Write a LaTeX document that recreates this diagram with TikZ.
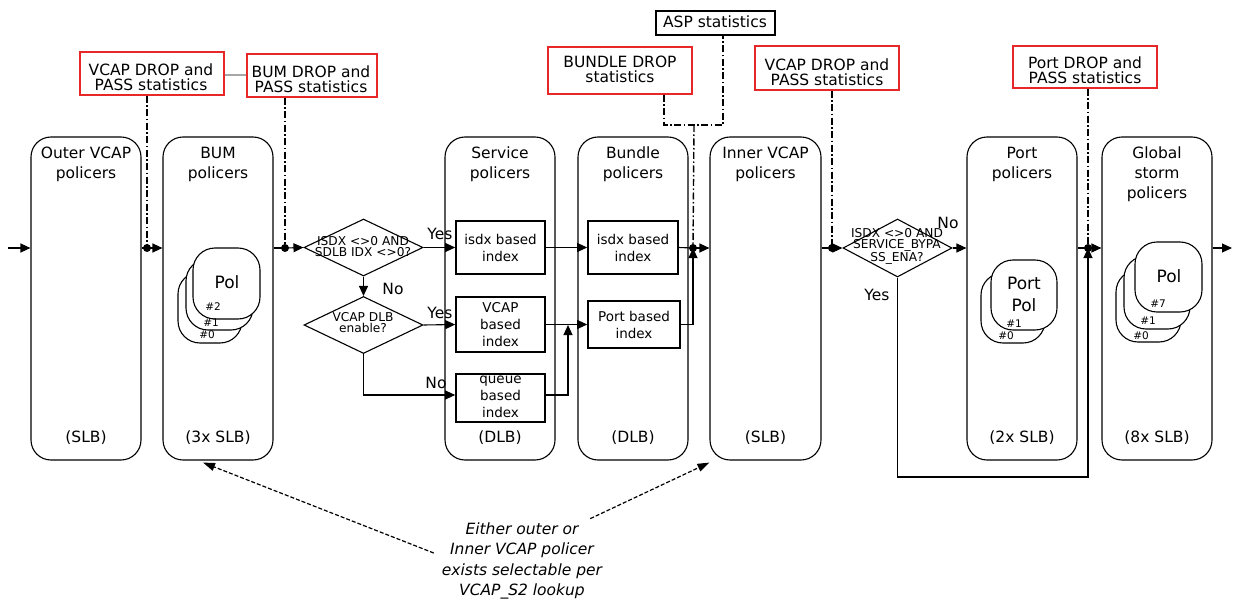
\documentclass[tikz,border=0pt]{standalone}
\usepackage{fontspec}
\setmainfont{DejaVu Sans}
\usetikzlibrary{arrows.meta,shapes.geometric}
\definecolor{statred}{RGB}{232,40,40}
\begin{document}
\begin{tikzpicture}[x=1pt,y=-1pt,
  bigbox/.style={draw, line width=1.1pt, rounded corners=20pt, minimum width=110pt, minimum height=323pt, inner sep=0pt},
  ttl/.style={inner sep=0pt, align=center, font=\fontsize{15.5}{20}\selectfont},
  stat/.style={draw=statred, line width=1.3pt, inner sep=0pt},
  blkstat/.style={draw, line width=1.2pt, inner sep=0pt},
  stl/.style={inner sep=0pt, align=center, font=\fontsize{15.5}{15}\selectfont},
  ibox/.style={draw, line width=1.6pt, inner sep=0pt, minimum width=89pt},
  itxt/.style={inner sep=0pt, align=center, font=\fontsize{13.5}{17}\selectfont},
  dia/.style={draw, shape=diamond, line width=1.1pt, inner sep=0pt, minimum width=119pt, minimum height=57pt},
  dtxt/.style={inner sep=0pt, align=center, font=\fontsize{12.2}{11}\selectfont},
  card/.style={draw, fill=white, line width=1.1pt, rounded corners=22pt, inner sep=0pt},
  num/.style={inner sep=0pt, font=\fontsize{10.5}{11}\selectfont},
  pol/.style={inner sep=0pt, align=center, font=\fontsize{17}{22}\selectfont},
  lbl/.style={inner sep=0pt, font=\fontsize{15.5}{16}\selectfont},
  arr/.style={-{Triangle[length=10pt,width=9pt]}, line width=1.1pt},
  dd/.style={line width=1.4pt, dash pattern=on 7pt off 2.5pt on 1.5pt off 2.5pt},
  dsh/.style={-{Triangle[length=12pt,width=8pt]}, line width=1.2pt, dash pattern=on 4pt off 2pt}]
\useasboundingbox (0,0) rectangle (1240,599);

% big boxes
\node[bigbox] (outer) at (86,298.5) {};
\node[ttl] (outerT) at (86,164) {Outer VCAP\\policers};
\node[ttl] (outerB) at (86,438) {(SLB)};
\node[bigbox] (bum) at (218,298.5) {};
\node[ttl] (bumT) at (218,164) {BUM\\policers};
\node[ttl] (bumB) at (218,438) {(3x SLB)};
\node[bigbox] (serv) at (500,298.5) {};
\node[ttl] (servT) at (500,164) {Service\\policers};
\node[ttl] (servB) at (500,438) {(DLB)};
\node[bigbox] (bund) at (633,298.5) {};
\node[ttl] (bundT) at (633,164) {Bundle\\policers};
\node[ttl] (bundB) at (633,438) {(DLB)};
\node[bigbox, minimum width=111pt] (inner) at (765.5,298.5) {};
\node[ttl] (innerT) at (765.5,164) {Inner VCAP\\policers};
\node[ttl] (innerB) at (765.5,438) {(SLB)};
\node[bigbox] (port) at (1022,298.5) {};
\node[ttl] (portT) at (1022,164) {Port\\policers};
\node[ttl] (portB) at (1022,438) {(2x SLB)};
\node[bigbox] (glob) at (1157,298.5) {};
\node[ttl] (globT) at (1157,174) {Global\\storm\\policers};
\node[ttl] (globB) at (1157,438) {(8x SLB)};

% statistics boxes
\node[stat, minimum width=144pt, minimum height=43pt] (vs1) at (152,73.5) {};
\node[stl] (vs1t) at (151,77.5) {VCAP DROP and\\PASS statistics};
\node[stat, minimum width=130pt, minimum height=43pt] (bs) at (312,75.5) {};
\node[stl] (bst) at (311,79) {BUM DROP and\\PASS statistics};
\node[blkstat, minimum width=119pt, minimum height=24pt] (asp) at (715.5,23) {};
\node[stl] (aspt) at (715,22) {ASP statistics};
\node[stat, minimum width=144pt, minimum height=47pt] (bds) at (620,70.5) {};
\node[stl] (bdst) at (620,69.5) {BUNDLE DROP\\statistics};
\node[stat, minimum width=144pt, minimum height=44pt] (vs2) at (827,68) {};
\node[stl] (vs2t) at (827,72.5) {VCAP DROP and\\PASS statistics};
\node[stat, minimum width=144pt, minimum height=42pt] (ps) at (1085,67) {};
\node[stl] (pst) at (1085,70.5) {Port DROP and\\PASS statistics};
\draw[gray!70, line width=1.2pt] (vs1.east |- 0,75) -- (bs.west |- 0,75);

% diamonds
\node[dia] (d1) at (363.5,247.5) {};
\node[dtxt] (d1t) at (363,246.5) {ISDX <>0 AND\\SDLB IDX <>0?};
\node[dia] (d2) at (363.5,325) {};
\node[dtxt] (d2t) at (363,322.5) {VCAP DLB\\enable?};
\node[dia, minimum width=109pt, minimum height=58pt] (d3) at (897.5,248) {};
\node[dtxt] (d3t) at (897,246.5) {ISDX <>0 AND\\SERVICE\_BYPA\\SS\_ENA?};

% index boxes
\node[ibox, minimum height=53pt] (s1) at (500.5,247.5) {};
\node[itxt] (s1t) at (500.5,247.5) {isdx based\\index};
\node[ibox, minimum height=55pt] (s2) at (500.5,324.5) {};
\node[itxt] (s2t) at (500.5,324.5) {VCAP\\based\\index};
\node[ibox, minimum height=48pt] (s3) at (500.5,398) {};
\node[itxt] (s3t) at (500.5,397) {queue\\based\\index};
\node[ibox, minimum width=90pt, minimum height=53pt] (b1) at (633,247.5) {};
\node[itxt] (b1t) at (633,247.5) {isdx based\\index};
\node[ibox, minimum width=92pt, minimum height=47pt] (b2) at (634,324.5) {};
\node[itxt] (b2t) at (634,324.5) {Port based\\index};

% policer cards
\node[card, minimum width=64pt, minimum height=71pt] (bc0) at (210,307.5) {};
\node[card, minimum width=67pt, minimum height=71pt] (bc1) at (219.5,294.5) {};
\node[card, minimum width=67pt, minimum height=71pt] (bc2) at (226.5,283.5) {};
\node[pol] (bpol) at (227,282) {Pol};
\node[num] (bn2) at (213,307) {\#2};
\node[num] (bn1) at (211,323) {\#1};
\node[num] (bn0) at (207,335) {\#0};

\node[card, minimum width=64pt, minimum height=70pt] (pc0) at (1013,308) {};
\node[card, minimum width=66pt, minimum height=70pt] (pc1) at (1024,295) {};
\node[pol] (ppol) at (1024,294) {Port\\Pol};
\node[num] (pn1) at (1014,324) {\#1};
\node[num] (pn0) at (1006,336) {\#0};

\node[card, minimum width=65pt, minimum height=72pt] (gc0) at (1148.5,306) {};
\node[card, minimum width=66pt, minimum height=73pt] (gc1) at (1157,292.5) {};
\node[card, minimum width=67pt, minimum height=70pt] (gc2) at (1168.5,277) {};
\node[pol] (gpol) at (1169,276) {Pol};
\node[num] (gn7) at (1158,304) {\#7};
\node[num] (gn1) at (1148,321) {\#1};
\node[num] (gn0) at (1141,336) {\#0};

% junctions
\coordinate (in) at (8,248);
\coordinate (j1) at (147,248);
\coordinate (j2) at (285,248);
\coordinate (j3) at (693,248);
\coordinate (j4) at (832,248);
\coordinate (j5) at (1088,248);
\coordinate (out) at (1232,248);
\coordinate (m1) at (568,325);
\coordinate (yb) at (1088,477);
\coordinate (k1) at (664,125);
\coordinate (k2) at (723,125);
\coordinate (k3) at (694,125);

% statistic taps
\draw[dd] (j1 |- vs1.south) -- (j1);
\draw[dd] (j2 |- bs.south) -- (j2);
\draw[dd] (k1 |- bds.south) -- (k1) -- (k2) -- (k2 |- asp.south);
\draw[dd] (k3) -- (j3);
\draw[dd] (j4 |- vs2.south) -- (j4);
\draw[dd] (j5 |- ps.south) -- (j5);

% main flow
\draw[arr] (in) -- (in -| outer.west);
\draw[line width=1.1pt] (j1 -| outer.east) -- (j1);
\draw[arr] (j1) -- (j1 -| bum.west);
\draw[line width=1.1pt] (j2 -| bum.east) -- (j2);
\draw[arr] (j2) -- (d1.west);
\draw[arr] (d1.east) -- (s1.west);
\draw[arr] (d1.south) -- (d2.north);
\draw[arr] (d2.east) -- (s2.west);
\draw[arr] (d2.south) |- ([yshift=3pt]s3.west);
\draw[arr] (s1.east) -- (b1.west);
\draw[arr] (s2.east) -- (b2.west);
\draw[arr] ([yshift=3pt]s3.east) -| (m1);
\draw[line width=1.1pt] (b1.east) -- (j3);
\draw[arr] (b2.east) -| (j3);
\draw[arr] (j3) -- (j3 -| inner.west);
\draw[line width=1.1pt] (j4 -| inner.east) -- (j4);
\draw[arr] (j4) -- (d3.west);
\draw[arr] (d3.east) -- (d3.east -| port.west);
\draw[arr] (d3.south) |- (yb) -| (j5);
\draw[line width=1.1pt] (j5 -| port.east) -- (j5);
\draw[arr] (j5) -- (j5 -| glob.west);
\draw[arr] (glob.east |- out) -- (out);
\foreach \j in {j1,j2,j3,j4,j5} \fill (\j) circle (4pt);

% yes/no labels
\node[lbl] (y1) at (440,234) {Yes};
\node[lbl] (n1) at (393,289) {No};
\node[lbl] (y2) at (440,313) {Yes};
\node[lbl] (n2) at (436,383) {No};
\node[lbl] (n3) at (948,223) {No};
\node[lbl] (y3) at (877,295) {Yes};

% annotation
\node[inner sep=0pt, align=center, font=\fontsize{15.5}{20.3}\selectfont\itshape] (note) at (522,561) {Either outer or\\Inner VCAP policer\\exists selectable per\\VCAP\_S2 lookup};
\draw[dsh] ([shift={(-8,-8)}]note.west) -- ([shift={(-15,2)}]bum.south);
\draw[dsh] ([shift={(-12,-4)}]note.north east) -- ([shift={(0,2)}]inner.south west);
\end{tikzpicture}
\end{document}
